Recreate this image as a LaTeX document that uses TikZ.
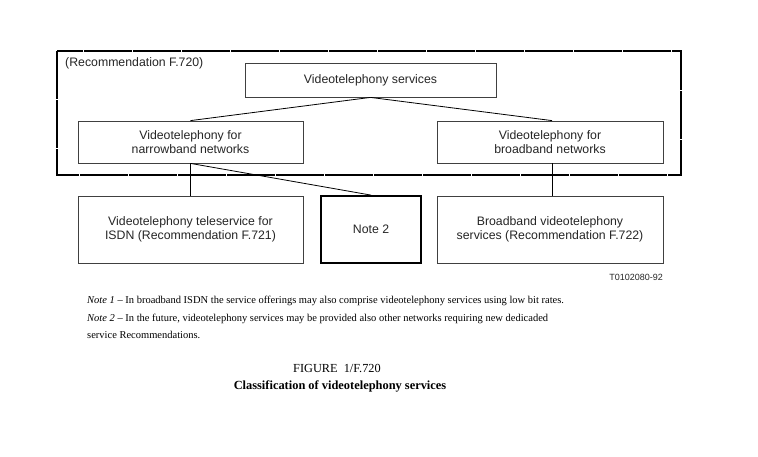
\documentclass[tikz,border=0pt]{standalone}
\usepackage{fontspec}
\setmainfont{Liberation Serif}
\newfontfamily\boxfont{Liberation Sans}
\begin{document}
\begin{tikzpicture}[x=1pt,y=-1pt,
  box/.style={draw=black!75,line width=0.8pt,rectangle,inner sep=0pt,align=center,
    font=\boxfont\fontsize{12.3}{14.4}\selectfont,text=black!85},
  link/.style={draw=black,line width=0.8pt},
  notetext/.style={font=\fontsize{10.5}{13}\selectfont,anchor=west,inner sep=0pt}]
\useasboundingbox[fill=white] (0,0) rectangle (758,456);
\draw[line width=1.8pt,dash pattern=on 48pt off 1pt] (57,51) rectangle (681,175);
\node[anchor=west,inner sep=0pt,font=\boxfont\fontsize{12.3}{14.4}\selectfont,text=black!85] (rec) at (65,63) {(Recommendation F.720)};
\node[box,minimum width=251pt,minimum height=34pt] (svc) at (370.5,80) {Videotelephony services};
\node[box,minimum width=225pt,minimum height=42pt] (nb) at (190.5,142) {Videotelephony for\\narrowband networks};
\node[box,minimum width=226pt,minimum height=42pt] (bb) at (550,142) {Videotelephony for\\broadband networks};
\node[box,minimum width=225pt,minimum height=67pt] (isdn) at (190.5,229.5) {Videotelephony teleservice for\\ISDN (Recommendation F.721)};
\node[box,draw=black,line width=1.8pt,minimum width=100pt,minimum height=67pt] (n2) at (371,229.5) {Note 2};
\node[box,minimum width=226pt,minimum height=67pt] (bbs) at (550,229.5) {Broadband videotelephony\\services (Recommendation F.722)};
\draw[link] (svc.south) -- (nb.north);
\draw[link] (svc.south) -- ([xshift=2pt]bb.north);
\draw[link] (nb.south) -- (isdn.north);
\draw[link] (nb.south) -- (n2.north);
\draw[link] ([xshift=2pt]bb.south) -- ([xshift=2pt]bbs.north);
\node[anchor=east,inner sep=0pt,font=\boxfont\fontsize{9}{11}\selectfont,text=black!85] (tag) at (663,277) {T0102080-92};
\node[notetext] (note1) at (87,301) {\textit{Note 1} -- In broadband ISDN the service offerings may also comprise videotelephony services using low bit rates.};
\node[notetext] (note2a) at (87,319) {\textit{Note 2} -- In the future, videotelephony services may be provided also other networks requiring new dedicaded};
\node[notetext] (note2b) at (87,335) {service Recommendations.};
\node[inner sep=0pt,font=\fontsize{12.3}{14}\selectfont] (fig) at (337,368) {FIGURE\ \ 1/F.720};
\node[inner sep=0pt,font=\bfseries\fontsize{12.4}{14}\selectfont] (cap) at (340,386) {Classification of videotelephony services};
\end{tikzpicture}
\end{document}
